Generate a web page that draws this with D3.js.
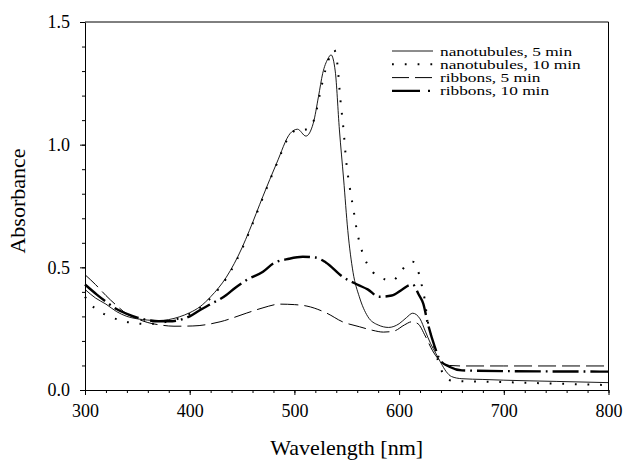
<!DOCTYPE html>
<html>
<head>
<meta charset="utf-8">
<script src="https://cdn.jsdelivr.net/npm/d3@7"></script>
<style>
  body { margin: 0; background: #fff; }
  #chart text { font-family: "Liberation Serif", "Times New Roman", "DejaVu Serif", serif !important; }
</style>
</head>
<body>
<svg id="chart"></svg>
<script>
  const width = 624;
  const height = 462;
  const margin = {top: 22, right: 15, bottom: 72, left: 85};

  // nanotubules, 5 min
  const nt5Wl  = [300,310,320,330,340,350,360,370,380,390,400,410,420,435,450,457,470,483,496,503,511,518,523,527,532,535,539,543,547,551,556,562,570,580,590,600,607,613,620,625,630,635,640,645,650,660,680,700,750,800];
  const nt5Abs = [0.41,0.375,0.35,0.32,0.30,0.29,0.285,0.283,0.287,0.298,0.315,0.34,0.38,0.46,0.58,0.65,0.79,0.924,1.046,1.063,1.035,1.087,1.196,1.29,1.35,1.366,1.30,1.06,0.86,0.65,0.48,0.38,0.30,0.265,0.255,0.27,0.295,0.313,0.29,0.24,0.19,0.15,0.11,0.075,0.055,0.046,0.043,0.04,0.035,0.03];

  // nanotubules, 10 min
  const nt10Wl  = [300,305,311,323,335,347,359,370,380,390,400,410,420,435,450,457,470,483,496,503,508,515,520,525,530,535,538,541,544,546.5,549.7,553,557,559,565,570,575,581,587,593,598,603,608,613,616,619,622,624.4,626,628,631,634,637,640,645,650,660,700,750,800];
  const nt10Abs = [0.38,0.35,0.329,0.30,0.283,0.272,0.269,0.272,0.28,0.292,0.31,0.335,0.375,0.455,0.575,0.645,0.785,0.92,1.04,1.06,1.06,1.07,1.12,1.22,1.31,1.37,1.386,1.33,1.18,1.08,0.924,0.822,0.72,0.666,0.56,0.51,0.48,0.462,0.45,0.444,0.46,0.49,0.515,0.523,0.51,0.473,0.42,0.37,0.32,0.265,0.217,0.17,0.122,0.085,0.05,0.038,0.036,0.032,0.026,0.02];

  // ribbons, 5 min
  const rb5Wl  = [300,310,320,330,340,350,360,372,385,403,429,454,470,486,500,512,531,546,562,575,585,595,605,612,618,625,632,640,648,660,700,800];
  const rb5Abs = [0.47,0.43,0.385,0.345,0.31,0.29,0.275,0.265,0.26,0.261,0.278,0.313,0.335,0.35,0.348,0.342,0.313,0.278,0.258,0.243,0.236,0.24,0.265,0.278,0.27,0.22,0.16,0.115,0.10,0.098,0.098,0.098];

  // ribbons, 10 min
  const rb10Wl  = [300,311,320,330,340,350,360,370,380,390,400,410,420,435,443,455,470,480,495,508,520,530,546,560,570,581,593,603,610,613,619,623,627.5,634,639,648,660,700,800];
  const rb10Abs = [0.43,0.39,0.36,0.33,0.31,0.295,0.285,0.28,0.28,0.285,0.3,0.326,0.35,0.387,0.415,0.45,0.482,0.516,0.535,0.543,0.54,0.52,0.462,0.43,0.41,0.38,0.385,0.41,0.428,0.43,0.387,0.353,0.27,0.177,0.122,0.095,0.08,0.077,0.075];

  const seriesNames = ["nanotubules, 5 min", "nanotubules, 10 min", "ribbons, 5 min", "ribbons, 10 min"];
  const xTicks = [300, 400, 500, 600, 700, 800];
  const yTicks = [0, 0.5, 1.0, 1.5];

  const series = [
    {name: seriesNames[0], wl: nt5Wl,  abs: nt5Abs,  width: 0.9, dash: null,         legendDash: null},
    {name: seriesNames[1], wl: nt10Wl, abs: nt10Abs, width: 2,   dash: "1.8,10.8",   legendDash: "1.8,11"},
    {name: seriesNames[2], wl: rb5Wl,  abs: rb5Abs,  width: 1,   dash: "18,6",       legendDash: "17,6"},
    {name: seriesNames[3], wl: rb10Wl, abs: rb10Abs, width: 2.4, dash: "26,5,1.8,5", legendDash: "28,8,2,5"}
  ];

  const svg = d3.select("#chart")
    .attr("width", width)
    .attr("height", height);

  const x = d3.scaleLinear()
    .domain([300, 800])
    .range([margin.left, width - margin.right - 0.5]);

  const y = d3.scaleLinear()
    .domain([0, 1.5])
    .range([height - margin.bottom, margin.top]);

  // frame (top + right)
  svg.append("path")
    .attr("d", `M${x(300)},${y(1.5)}H${x(800)}V${y(0)}`)
    .attr("fill", "none")
    .attr("stroke", "#000")
    .attr("stroke-width", 1);

  // minor ticks
  const xAxisMinor = d3.axisBottom(x).tickValues(d3.range(300, 801, 20)).tickSize(3).tickFormat("");
  const yAxisMinor = d3.axisLeft(y).tickValues(d3.range(0, 1.501, 0.1)).tickSize(3).tickFormat("");

  svg.append("g")
    .attr("transform", `translate(0,${y(0)})`)
    .call(xAxisMinor)
    .call(g => g.select(".domain").remove());
  svg.append("g")
    .attr("transform", `translate(${x(300)},0)`)
    .call(yAxisMinor)
    .call(g => g.select(".domain").remove());

  // major axes
  const xAxis = d3.axisBottom(x).tickValues(xTicks).tickSize(5).tickSizeOuter(0).tickPadding(9).tickFormat(d3.format("d"));
  const yAxis = d3.axisLeft(y).tickValues(yTicks).tickSize(5).tickSizeOuter(0).tickPadding(10).tickFormat(d3.format(".1f"));

  svg.append("g")
    .attr("transform", `translate(0,${y(0)})`)
    .call(xAxis)
    .attr("font-size", 18);
  svg.append("g")
    .attr("transform", `translate(${x(300)},0)`)
    .call(yAxis)
    .attr("font-size", 18);

  // curves
  const line = d3.line()
    .x(d => x(d[0]))
    .y(d => y(d[1]))
    .curve(d3.curveMonotoneX);

  svg.append("g")
    .selectAll("path")
    .data(series)
    .join("path")
      .attr("d", s => line(s.wl.map((w, i) => [w, s.abs[i]])))
      .attr("fill", "none")
      .attr("stroke", "#000")
      .attr("stroke-width", s => s.width)
      .attr("stroke-dasharray", s => s.dash);

  // legend
  const legend = svg.append("g").attr("transform", "translate(392,51)");
  const rows = legend.selectAll("g")
    .data(series)
    .join("g")
      .attr("transform", (d, i) => `translate(0,${i * 13.3})`);
  rows.append("line")
    .attr("x1", 0).attr("x2", 41)
    .attr("stroke", "#000")
    .attr("stroke-width", s => s.width)
    .attr("stroke-dasharray", s => s.legendDash);
  rows.append("text")
    .attr("x", 48)
    .attr("y", 4.5)
    .attr("font-size", 13)
    .text(s => s.name)
    .each(function() {
      const w = this.getComputedTextLength();
      d3.select(this).attr("textLength", w * 1.33).attr("lengthAdjust", "spacingAndGlyphs");
    });

  // axis titles
  svg.append("text")
    .attr("x", (x(300) + x(800)) / 2)
    .attr("y", 455)
    .attr("text-anchor", "middle")
    .attr("font-size", 22)
    .text("Wavelength [nm]");

  svg.append("text")
    .attr("transform", `translate(25,${(y(0) + y(1.5)) / 2 - 5}) rotate(-90)`)
    .attr("text-anchor", "middle")
    .attr("font-size", 22)
    .text("Absorbance");
</script>
</body>
</html>
